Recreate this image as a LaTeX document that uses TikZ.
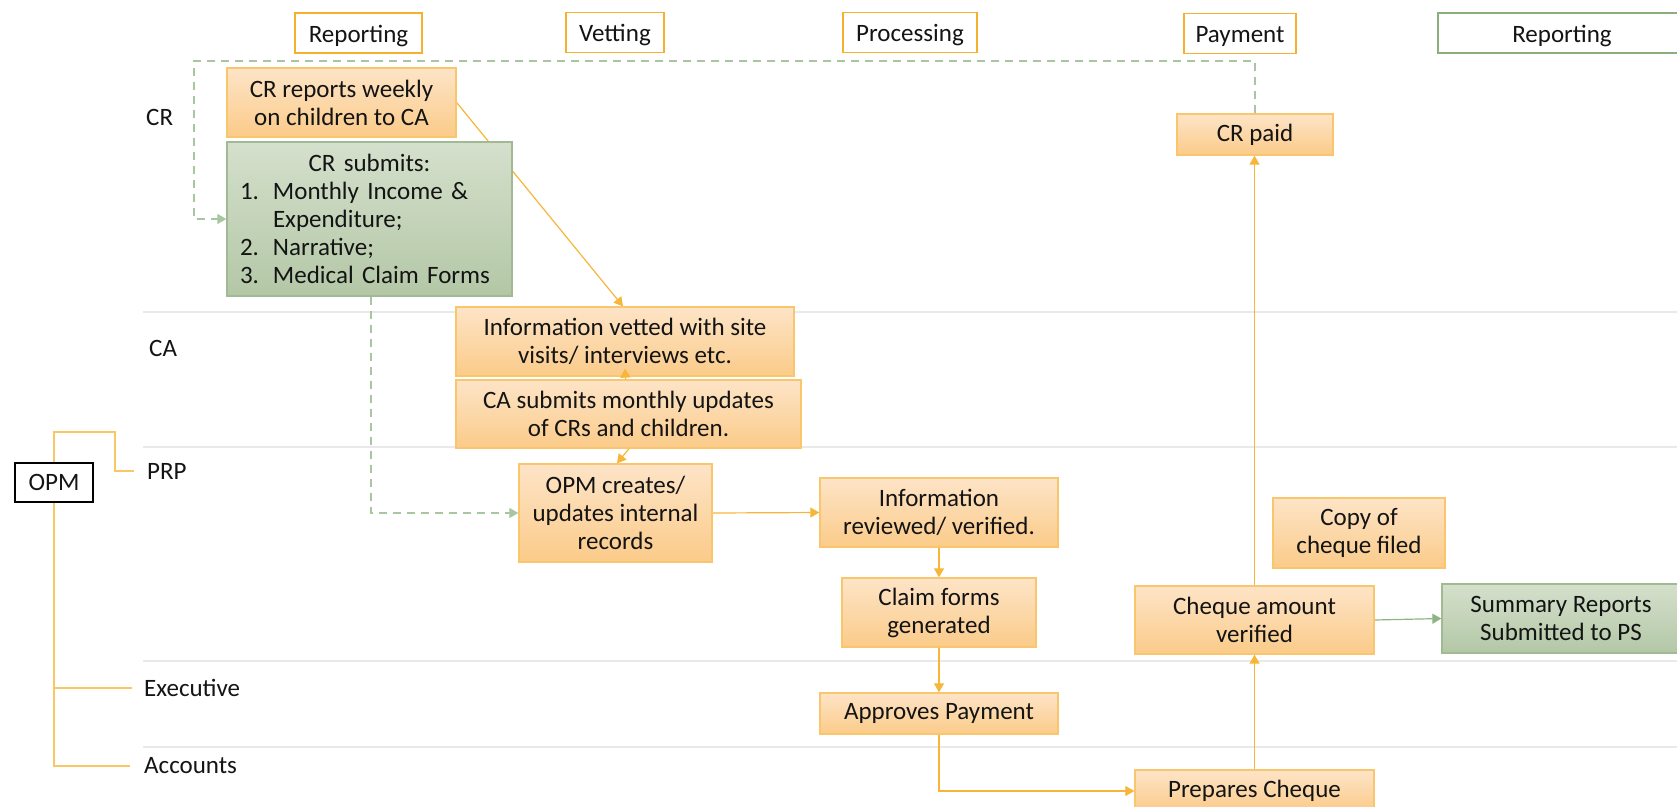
\documentclass[tikz,border=0pt]{standalone}
\usepackage{fontspec}
\setmainfont{Carlito}
\usetikzlibrary{arrows.meta,calc}
\pgfdeclarelayer{bg}
\pgfsetlayers{bg,main}
\definecolor{txt}{HTML}{141414}
\definecolor{otop}{HTML}{FDE4C7}
\definecolor{obot}{HTML}{FBCB89}
\definecolor{oborder}{HTML}{F9C56D}
\definecolor{oline}{HTML}{F7B53A}
\definecolor{gtop}{HTML}{D5E0CC}
\definecolor{gbot}{HTML}{B3C7A6}
\definecolor{gborder}{HTML}{A1BA93}
\definecolor{gline}{HTML}{8DB482}
\definecolor{gdashc}{HTML}{A8C7A0}
\definecolor{hor}{HTML}{F5B02E}
\definecolor{hgr}{HTML}{8AAE7D}
\definecolor{lanec}{HTML}{E9E9E9}
\definecolor{treec}{HTML}{F9C866}
\begin{document}
\begin{tikzpicture}[x=1pt,y=-1pt,
  every node/.style={font=\fontsize{25}{28}\selectfont, text=txt},
  obox/.style={draw=oborder, line width=1.3pt, top color=otop, bottom color=obot, inner sep=0pt, align=center},
  gbox/.style={draw=gborder, line width=1.3pt, top color=gtop, bottom color=gbot, inner sep=0pt, align=center},
  hbox/.style={draw=hor, line width=1.5pt, fill=white, inner sep=0pt, text height=21pt, text depth=3pt},
  hgbox/.style={draw=hgr, line width=1.5pt, fill=white, inner sep=0pt, text height=21pt, text depth=3pt},
  lbl/.style={anchor=west, inner sep=0pt},
  lane/.style={draw=lanec, line width=1.6pt},
  oarrow/.style={draw=oline, line width=1.2pt, -{Triangle[length=9pt,width=10pt]}},
  garrow/.style={draw=gline, line width=1.2pt, -{Triangle[length=9pt,width=10pt]}},
  gdash/.style={draw=gdashc, line width=1.2pt, dash pattern=on 8pt off 6pt, -{Triangle[length=9pt,width=10pt]}},
  tree/.style={draw=treec, line width=1.2pt},
  opmbox/.style={draw=black, line width=1.5pt, fill=white, inner sep=0pt}
]
\useasboundingbox (0,0) rectangle (1677,806);
\clip (0,0) rectangle (1677,806);

% lane separators
\begin{pgfonlayer}{bg}
\foreach \yy in {312,447,661,747} \draw[lane] (143,\yy) -- (1677,\yy);
\end{pgfonlayer}

% lane labels
\node[lbl] (lcr) at (146,117) {CR};
\node[lbl] (lca) at (149,348) {CA};
\node[lbl] (lprp) at (147,471) {PRP};
\node[lbl] (lexe) at (144,688) {Executive};
\node[lbl] (lacc) at (144,766) {Accounts};
\node[opmbox, minimum width=78pt, minimum height=39pt] (opm) at (54,482.5) {OPM};

% headers
\node[hbox, minimum width=127pt, minimum height=40pt] (h1) at (358.5,33) {Reporting};
\node[hbox, minimum width=98pt, minimum height=40pt] (h2) at (615,32.5) {Vetting};
\node[hbox, minimum width=134pt, minimum height=40pt] (h3) at (910,32.5) {Processing};
\node[hbox, minimum width=112pt, minimum height=40pt] (h4) at (1240,33.5) {Payment};
\node[hgbox, minimum width=248pt, minimum height=40pt] (h5) at (1562,33) {Reporting};

% process boxes
\node[obox, minimum width=229pt, minimum height=69pt] (crrep) at (341.5,102.5) {CR reports weekly\\on children to CA};
\node[gbox, minimum width=285pt, minimum height=154pt, text width=259pt, inner xsep=13pt, align=left] (crsub) at (369.5,219)
  {\makebox[259pt][c]{CR submits:}\\\makebox[33pt][l]{1.}Monthly Income \&\\\hspace*{33pt}Expenditure;\\\makebox[33pt][l]{2.}Narrative;\\\makebox[33pt][l]{3.}Medical Claim Forms};
\node[obox, minimum width=338pt, minimum height=69pt] (infovet) at (625,341.5) {Information vetted with site\\visits/ interviews etc.};
\node[obox, minimum width=345pt, minimum height=68pt] (casub) at (628.5,414) {CA submits monthly updates\\of CRs and children.};
\node[obox, minimum width=193pt, minimum height=98pt] (opmc) at (615.5,513) {OPM creates/\\updates internal\\records};
\node[obox, minimum width=238pt, minimum height=69pt] (inforev) at (939,512.5) {Information\\reviewed/ verified.};
\node[obox, minimum width=194pt, minimum height=69pt] (claim) at (939,612.5) {Claim forms\\generated};
\node[obox, minimum width=238pt, minimum height=41pt] (appr) at (939,713.5) {Approves Payment};
\node[obox, minimum width=156pt, minimum height=41pt] (crpaid) at (1255,134.5) {CR paid};
\node[obox, minimum width=172pt, minimum height=70pt] (copy) at (1359,533) {Copy of\\cheque filed};
\node[obox, minimum width=239pt, minimum height=68pt] (cheq) at (1254.5,620) {Cheque amount\\verified};
\node[gbox, minimum width=238pt, minimum height=69pt] (sum) at (1561,618.5) {Summary Reports\\Submitted to PS};
\node[obox, minimum width=239pt, minimum height=42pt] (prep) at (1254.5,791) {Prepares Cheque};

% connectors
\begin{pgfonlayer}{bg}
\draw[oarrow] (crrep.east) -- ([xshift=-2pt]infovet.north);
\draw[oarrow] (opmc.east) -- (inforev.west);
\draw[oarrow] (inforev.south) -- (claim.north);
\draw[oarrow] (claim.south) -- (appr.north);
\draw[oarrow] (appr.south) |- (prep.west);
\draw[oarrow] (prep.north) -- (cheq.south);
\draw[oarrow] (cheq.north) -- (cheq.north |- crpaid.south);
\coordinate (dtl) at (194,61);
\draw[gdash] (crpaid.north) |- (dtl) -- (dtl |- crsub.west) -- (crsub.west);
\draw[gdash] ([xshift=1.5pt]crsub.south) |- (opmc.west);
\draw[garrow] (cheq.east) -- (sum.west);
\coordinate (tA) at (115,432);
\draw[tree] (opm.north) |- (tA) |- ([xshift=-13pt]lprp.west);
\draw[tree] (opm.south) |- ([xshift=-14pt]lacc.west);
\draw[tree] (opm.south |- lexe.west) -- ([xshift=-12pt]lexe.west);
\end{pgfonlayer}
\draw[oarrow] ([xshift=-3pt]casub.north) -- ([yshift=8pt]infovet.south);
\draw[oarrow] ([xshift=0.5pt]casub.south) -- ([xshift=1.5pt]opmc.north);
\end{tikzpicture}
\end{document}
